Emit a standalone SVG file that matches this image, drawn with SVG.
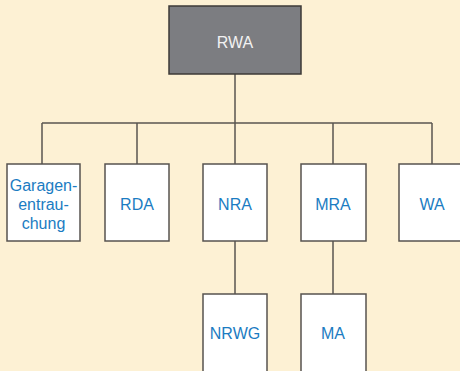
<svg xmlns="http://www.w3.org/2000/svg" width="460" height="371" viewBox="0 0 460 371">
<style>
.box{fill:#ffffff;stroke:#57534f;stroke-width:1.5}
.dark{fill:#7c7d81;stroke:#3d3a37;stroke-width:1.5}
.t{font-family:"Liberation Sans",Arial,sans-serif;font-size:16px;fill:#1b7cc2;text-anchor:middle;dominant-baseline:central}
.tw{font-family:"Liberation Sans",Arial,sans-serif;font-size:16px;fill:#f2f2f2;text-anchor:middle;dominant-baseline:central}
.c{fill:none;stroke:#5a5550;stroke-width:1.5}
</style>
<rect width="460" height="371" fill="#fdf1d4"/>
<g id="connectors">
<path class="c" d="M235 74V123M42 123H432M42 123V164M137 123V164M235 123V164M333 123V164M432 123V164M235 241V294M333 241V294"/>
</g>
<g id="RWA"><rect class="dark" x="169" y="6" width="132" height="68"/><text class="tw" x="235" y="42">RWA</text></g>
<g id="Garagen"><rect class="box" x="7" y="164" width="73" height="77"/><text class="t" x="43.5" y="185">Garagen-</text><text class="t" x="43.5" y="204">entrau-</text><text class="t" x="43.5" y="223">chung</text></g>
<g id="RDA"><rect class="box" x="105" y="164" width="64" height="77"/><text class="t" x="137" y="204">RDA</text></g>
<g id="NRA"><rect class="box" x="203" y="164" width="64" height="77"/><text class="t" x="235" y="204">NRA</text></g>
<g id="MRA"><rect class="box" x="301" y="164" width="65" height="77"/><text class="t" x="333" y="204">MRA</text></g>
<g id="WA"><rect class="box" x="399" y="164" width="66" height="77"/><text class="t" x="432" y="204">WA</text></g>
<g id="NRWG"><rect class="box" x="203" y="294" width="64" height="80"/><text class="t" x="235" y="333">NRWG</text></g>
<g id="MA"><rect class="box" x="301" y="294" width="65" height="80"/><text class="t" x="333" y="333">MA</text></g>
</svg>
